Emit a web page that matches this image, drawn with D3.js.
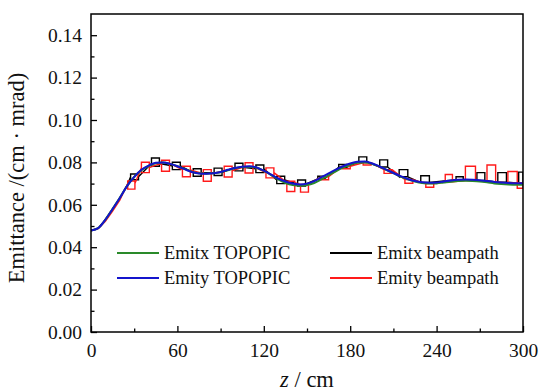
<!DOCTYPE html>
<html><head><meta charset="utf-8">
<script src="https://cdn.jsdelivr.net/npm/d3@7"></script>
<style>
body{margin:0;background:#fff;font-family:"Liberation Serif",serif} svg{display:block;font-family:"Liberation Serif",serif}
</style>
</head><body>
<svg id="c" width="540" height="392" style="font-family:'Liberation Serif',serif"></svg>
<script>
// ---- data ----
const zGrid = [0,5,10,15,20,25,30,35,40,45,50,55,60,65,70,75,80,85,90,95,100,105,110,115,120,125,130,135,140,145,150,155,160,165,170,175,180,185,190,195,200,205,210,215,220,225,230,235,240,245,250,255,260,265,270,275,280,285,290,295,300];
const emityTopopic = [0.0479,0.0490,0.0530,0.0580,0.0632,0.0688,0.0732,0.0765,0.0785,0.0798,0.0800,0.0793,0.0782,0.0768,0.0755,0.0748,0.0747,0.0749,0.0755,0.0765,0.0774,0.0780,0.0782,0.0776,0.0761,0.0743,0.0724,0.0710,0.0700,0.0696,0.0700,0.0712,0.0730,0.0748,0.0766,0.0782,0.0795,0.0803,0.0804,0.0796,0.0782,0.0766,0.0750,0.0735,0.0722,0.0712,0.0706,0.0704,0.0705,0.0710,0.0715,0.0718,0.0719,0.0718,0.0716,0.0712,0.0708,0.0705,0.0703,0.0702,0.0702];
const emitxTopopic = [0.0479,0.0490,0.0530,0.0581,0.0633,0.0688,0.0731,0.0763,0.0783,0.0796,0.0799,0.0793,0.0782,0.0769,0.0756,0.0749,0.0747,0.0749,0.0754,0.0763,0.0772,0.0778,0.0780,0.0775,0.0760,0.0741,0.0720,0.0703,0.0693,0.0690,0.0693,0.0703,0.0720,0.0739,0.0758,0.0775,0.0789,0.0798,0.0800,0.0794,0.0781,0.0765,0.0749,0.0733,0.0720,0.0710,0.0703,0.0700,0.0701,0.0705,0.0709,0.0712,0.0713,0.0712,0.0710,0.0706,0.0701,0.0698,0.0696,0.0695,0.0695];

// beampath x: lead-in points then boxes (start, end, top, bottom, base)
const bpxLeadZ = [0,5,10,15,20,25];
const bpxLeadV = [0.0479,0.0490,0.0530,0.0580,0.0632,0.0690];
const bpxZ0   = [27.5,42,56.5,71,85.5,100,114.5,129,143.5,157.5,172,186,200.5,214,229,253.5,268,282.5,297];
const bpxZ1   = [33,47.5,62,76.5,91,105.5,120,134.5,149,162,177.5,191.5,206,220,235,258.5,273.5,288.5,300];
const bpxHi   = [0.0745,0.0821,0.0801,0.0770,0.0773,0.0796,0.0788,0.0735,0.0717,0.0735,0.0790,0.0826,0.0812,0.0766,0.0737,0.0732,0.0752,0.0752,0.0754];
const bpxLo   = [0.0718,0.0782,0.0766,0.0735,0.0738,0.0760,0.0752,0.0700,0.0688,0.0722,0.0777,0.0803,0.0778,0.0732,0.0705,0.0718,0.0715,0.0707,0.0702];
const bpxBase = [0.0732,0.0795,0.0784,0.0752,0.0752,0.0777,0.0770,0.0717,0.0697,0.0722,0.0777,0.0803,0.0778,0.0732,0.0705,0.0718,0.0715,0.0707,0.0702];

// beampath y
const bpyLeadZ = [0,5,10,15,20];
const bpyLeadV = [0.0479,0.0488,0.0522,0.0570,0.0622];
const bpyZ0   = [25.5,35,49,63.5,78,92.5,107,121.5,136,145.5,160,174.5,189,203.5,218,232.5,246,260,275,289.5,296];
const bpyZ1   = [30.5,40.5,54.5,69,83.5,98,112.5,127,141.5,151,165,180,194.5,209,223.5,238,251,267,281,296,300];
const bpyHi   = [0.0712,0.0801,0.0810,0.0782,0.0766,0.0782,0.0798,0.0774,0.0711,0.0696,0.0732,0.0782,0.0798,0.0766,0.0719,0.0700,0.0743,0.0782,0.0788,0.0757,0.0704];
const bpyLo   = [0.0674,0.0752,0.0758,0.0732,0.0711,0.0731,0.0750,0.0727,0.0663,0.0660,0.0718,0.0770,0.0788,0.0748,0.0702,0.0683,0.0708,0.0714,0.0708,0.0703,0.0678];
const bpyBase = [0.0700,0.0775,0.0797,0.0765,0.0747,0.0760,0.0781,0.0752,0.0705,0.0696,0.0732,0.0782,0.0798,0.0766,0.0719,0.0700,0.0708,0.0714,0.0708,0.0703,0.0704];

const xMajor = [0,60,120,180,240,300];
const xMinor = [30,90,150,210,270];
const yMajor = [0,0.02,0.04,0.06,0.08,0.10,0.12,0.14];
const yMinor = [0.01,0.03,0.05,0.07,0.09,0.11,0.13];

const legendLabels = ["Emitx TOPOPIC","Emity TOPOPIC","Emitx beampath","Emity beampath"];
const colors = {gx:"#2a8a2a", gy:"#1414cc", bx:"#000000", by:"#ff1a1a"};

// ---- chart ----
const FONT = "Liberation Serif";
const svg = d3.select("#c");
const L=91, R=523, T=14, B=332;
const x = d3.scaleLinear().domain([0,300]).range([L,R]);
const y = d3.scaleLinear().domain([0,0.15]).range([B,T]);

const plot = svg.append("g");
plot.append("clipPath").attr("id","clip").append("rect").attr("x",L).attr("y",T).attr("width",R-L).attr("height",B-T);

function boxPoints(leadZ, leadV, z0, z1, hi, lo, base){
  const pts = leadZ.map((z,i)=>[z,leadV[i]]);
  z0.forEach((a,i)=>{
    pts.push([a,base[i]],[a,hi[i]],[z1[i],hi[i]],[z1[i],lo[i]],[a,lo[i]],[a,base[i]],null,[z1[i],base[i]]);
  });
  return pts;
}
const line = d3.line().defined(d=>d!==null).x(d=>x(d[0])).y(d=>y(d[1]));
const smooth = d3.line().curve(d3.curveMonotoneX).x(d=>x(d[0])).y(d=>y(d[1]));

const g = plot.append("g").attr("clip-path","url(#clip)");
g.append("path").attr("d", line(boxPoints(bpxLeadZ,bpxLeadV,bpxZ0,bpxZ1,bpxHi,bpxLo,bpxBase)))
  .attr("fill","none").attr("stroke",colors.bx).attr("stroke-width",1.4);
g.append("path").attr("d", line(boxPoints(bpyLeadZ,bpyLeadV,bpyZ0,bpyZ1,bpyHi,bpyLo,bpyBase)))
  .attr("fill","none").attr("stroke",colors.by).attr("stroke-width",1.4);
g.append("path").attr("d", smooth(zGrid.map((z,i)=>[z,emitxTopopic[i]])))
  .attr("fill","none").attr("stroke",colors.gx).attr("stroke-width",2);
g.append("path").attr("d", smooth(zGrid.map((z,i)=>[z,emityTopopic[i]])))
  .attr("fill","none").attr("stroke",colors.gy).attr("stroke-width",2);

// axes
svg.append("g").attr("transform",`translate(0,${B})`)
  .call(d3.axisBottom(x).tickValues(xMajor).tickSize(-6).tickPadding(11).tickFormat(d3.format("d")));
svg.append("g").attr("transform",`translate(0,${B})`)
  .call(d3.axisBottom(x).tickValues(xMinor).tickSize(-3.5).tickFormat(""));
svg.append("g").attr("transform",`translate(${L},0)`)
  .call(d3.axisLeft(y).tickValues(yMajor).tickSize(-6).tickPadding(9).tickFormat(d3.format(".2f")));
svg.append("g").attr("transform",`translate(${L},0)`)
  .call(d3.axisLeft(y).tickValues(yMinor).tickSize(-3.5).tickFormat(""));
svg.selectAll(".domain").remove();
svg.selectAll("g").attr("font-family",null).attr("font-size",null);
svg.selectAll(".tick line").attr("stroke","#000").attr("stroke-width",1.3);
svg.selectAll(".tick text").attr("font-family",FONT).attr("font-size",19.5).attr("fill","#111");

svg.append("rect").attr("x",L).attr("y",T).attr("width",R-L).attr("height",B-T)
  .attr("fill","none").attr("stroke","#000").attr("stroke-width",1.5);

// axis titles
svg.append("text").attr("transform","translate(24,178) rotate(-90)")
  .attr("text-anchor","middle").attr("font-family",FONT).attr("font-size",22.5).attr("fill","#111")
  .text("Emittance /(cm · mrad)");
const xt = svg.append("text").attr("x",307).attr("y",387).attr("text-anchor","middle")
  .attr("font-family",FONT).attr("font-size",22.5).attr("fill","#111");
xt.append("tspan").attr("font-style","italic").text("z");
xt.append("tspan").text(" / cm");

// legend
const legItems = [
  {lab:legendLabels[0], c:colors.gx, x0:117, yy:253},
  {lab:legendLabels[1], c:colors.gy, x0:117, yy:278},
  {lab:legendLabels[2], c:colors.bx, x0:330, yy:253},
  {lab:legendLabels[3], c:colors.by, x0:330, yy:278}
];
const lg = svg.append("g");
legItems.forEach(d=>{
  lg.append("line").attr("x1",d.x0).attr("x2",d.x0+42).attr("y1",d.yy).attr("y2",d.yy)
    .attr("stroke",d.c).attr("stroke-width",2);
  lg.append("text").attr("x",d.x0+47).attr("y",d.yy).attr("dy","0.33em")
    .attr("font-family",FONT).attr("font-size",18.5).attr("fill","#111").text(d.lab);
});
</script>
</body></html>
